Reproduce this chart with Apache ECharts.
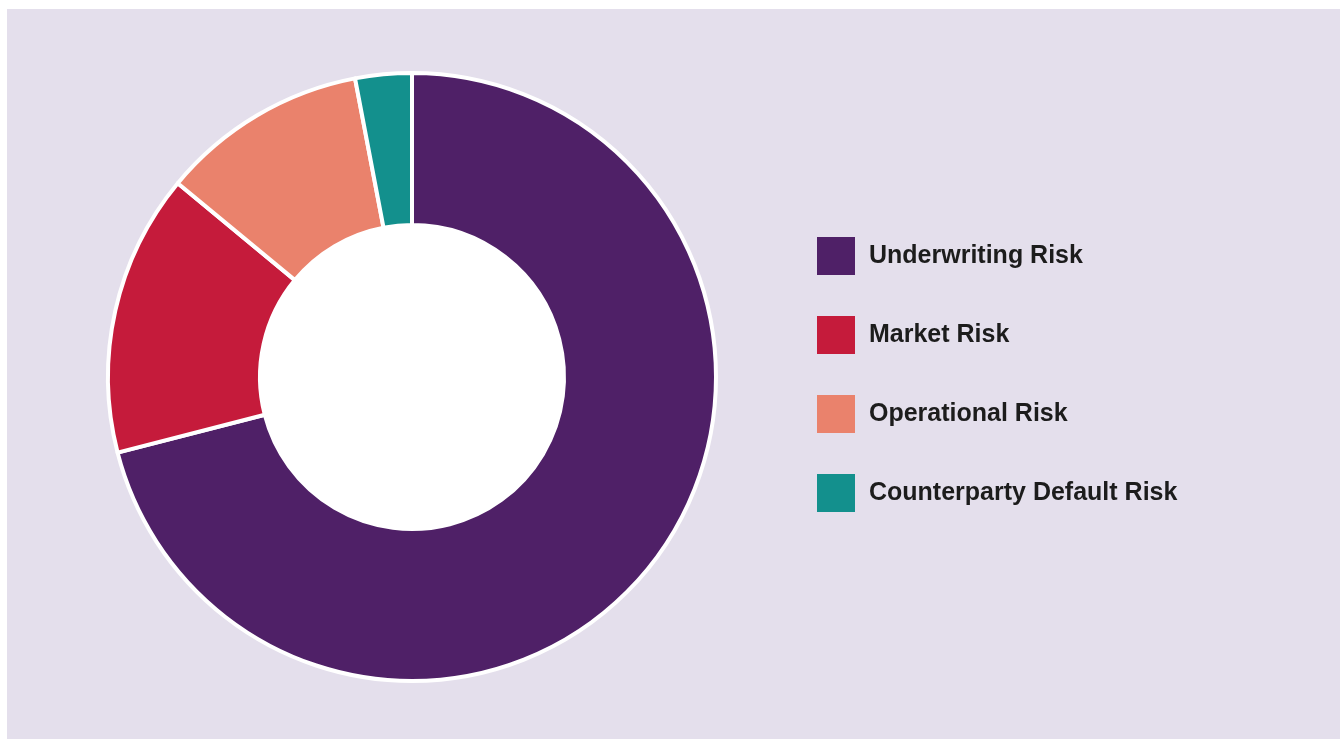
<!DOCTYPE html>
<html>
<head>
<meta charset="utf-8">
<script src="https://cdn.jsdelivr.net/npm/echarts@6/dist/echarts.min.js"></script>
<style>
  html, body { margin: 0; padding: 0; background: #ffffff; }
  #main { width: 1340px; height: 739px; }
</style>
</head>
<body>
<div id="main"></div>
<script>
// 数据
const categories = ['Underwriting Risk', 'Market Risk', 'Operational Risk', 'Counterparty Default Risk'];
const values = [71, 15, 11, 3];
const colors = ['#4f2067', '#c51b3b', '#ea826c', '#13908d'];

const chart = echarts.init(document.getElementById('main'));

function draw() {
	let option = {
		backgroundColor: '#ffffff',
		animation: false,
		color: colors,
		graphic: [{
			type: 'rect',
			z: -10,
			silent: true,
			shape: { x: 7, y: 9, width: 1333, height: 730 },
			style: { fill: '#e4dfec' }
		}],
		legend: {
			orient: 'vertical',
			left: 817,
			top: 237,
			padding: 0,
			icon: 'rect',
			itemWidth: 38,
			itemHeight: 38,
			itemGap: 41,
			data: categories,
			selectedMode: false,
			itemStyle: { borderWidth: 0 },
			textStyle: {
				color: '#1c1c1c',
				fontSize: 25,
				fontWeight: 'bold',
				fontFamily: 'Liberation Sans, Arial, sans-serif',
				padding: [0, 0, 0, 9]
			}
		},
		series: [{
			name: 'risk',
			type: 'pie',
			center: [412, 377],
			radius: [152, 304],
			startAngle: 90,
			clockwise: true,
			silent: true,
			label: { show: false },
			labelLine: { show: false },
			itemStyle: {
				borderColor: '#ffffff',
				borderWidth: 4
			},
			data: categories.map((name, i) => ({ name: name, value: values[i] }))
		}, {
			// 中间白色圆
			name: 'hole',
			type: 'pie',
			center: [412, 377],
			radius: [0, 152],
			silent: true,
			label: { show: false },
			labelLine: { show: false },
			itemStyle: { color: '#ffffff' },
			data: [{ name: 'hole', value: 1 }]
		}]
	};
	chart.setOption(option);
}
draw();
</script>
</body>
</html>
